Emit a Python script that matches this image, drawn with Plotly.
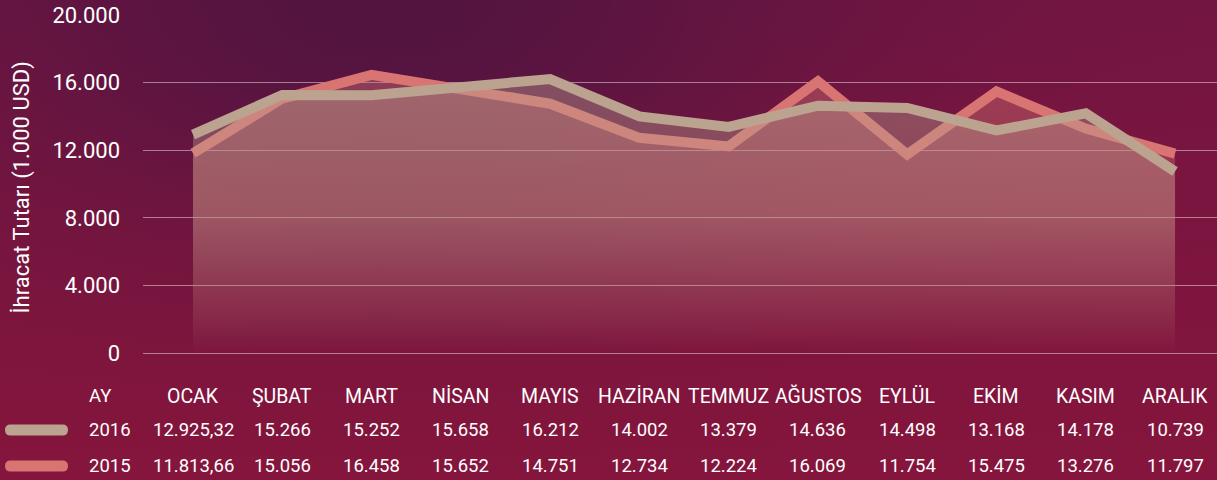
import base64
import struct
import zlib

import numpy as np
import plotly.graph_objects as go

months = ['OCAK', 'ŞUBAT', 'MART', 'NİSAN', 'MAYIS', 'HAZİRAN', 'TEMMUZ',
          'AĞUSTOS', 'EYLÜL', 'EKİM', 'KASIM', 'ARALIK']
exports_2016 = [12925.32, 15266, 15252, 15658, 16212, 14002, 13379, 14636, 14498, 13168, 14178, 10739]
exports_2015 = [11813.66, 15056, 16458, 15652, 14751, 12734, 12224, 16069, 11754, 15475, 13276, 11797]
y_ticks = [0, 4000, 8000, 12000, 16000, 20000]

W, H = 1217, 480
L, R, T, B = 143, 0, 15, 127
PW, PH = W - L - R, H - T - B

C16 = '#bba38f'
C15 = '#d87472'


def fmt_tr(v):
    # turkish number format: 12.925,32 / 15.266
    s = f"{v:,.2f}" if v % 1 else f"{v:,.0f}"
    return s.replace(',', 'X').replace('.', ',').replace('X', '.')


def png_uri(arr):
    h, w, _ = arr.shape
    raw = b''.join(b'\x00' + arr[i].tobytes() for i in range(h))

    def chunk(tag, data):
        return (struct.pack('>I', len(data)) + tag + data
                + struct.pack('>I', zlib.crc32(tag + data) & 0xffffffff))

    png = (b'\x89PNG\r\n\x1a\n'
           + chunk(b'IHDR', struct.pack('>IIBBBBB', w, h, 8, 2, 0, 0, 0))
           + chunk(b'IDAT', zlib.compress(raw, 9))
           + chunk(b'IEND', b''))
    return 'data:image/png;base64,' + base64.b64encode(png).decode()


# background gradient (purple top-left -> crimson)
sc = 4
yy, xx = np.mgrid[0:H:sc, 0:W:sc].astype(float)
top = np.array([116, 22, 66.])
bot = np.array([134, 22, 60.])
dark = np.array([78, 20, 64.])
t = (yy / H)[..., None]
base = top * (1 - t) + bot * t
w = (0.85 * np.exp(-((xx - 380) / 420) ** 2 - (yy / 230) ** 2))[..., None]
bg = np.clip(base * (1 - w) + dark * w, 0, 255).astype(np.uint8)


def rgba(hexc, a):
    h = hexc.lstrip('#')
    r, g, b = (int(h[i:i + 2], 16) for i in (0, 2, 4))
    return f'rgba({r},{g},{b},{a})'


def grad(c):
    return dict(type='vertical', start=0, stop=16500,
                colorscale=[[0, rgba(c, 0)], [0.12, rgba(c, 0.08)],
                            [0.5, rgba(c, 0.32)], [1, rgba(c, 0.42)]])


fig = go.Figure()
fig.add_trace(go.Scatter(x=months, y=exports_2015, name='2015', mode='lines',
                         line=dict(color=C15, width=10),
                         fill='tozeroy', fillgradient=grad(C15)))
fig.add_trace(go.Scatter(x=months, y=exports_2016, name='2016', mode='lines',
                         line=dict(color=C16, width=10),
                         fill='tozeroy', fillgradient=grad(C16)))

font = dict(family='Roboto', color='white')

# table under the chart
rows = [(-43, None), (-77, exports_2016), (-113, exports_2015)]
ann = []
for dy, vals in rows:
    yp = dy / PH
    for i, m in enumerate(months):
        txt = m if vals is None else fmt_tr(vals[i])
        size = 19.5 if vals is None else 18.5
        ann.append(dict(x=m, xref='x', y=yp, yref='paper', text=txt, showarrow=False,
                        xanchor='center', yanchor='middle', font=dict(size=size, **font)))
for dy, label in [(-43, 'AY'), (-77, '2016'), (-113, '2015')]:
    cx = 100 if label == 'AY' else 110
    ann.append(dict(x=(cx - L) / PW, xref='paper', y=dy / PH, yref='paper', text=label,
                    showarrow=False, xanchor='center', yanchor='middle',
                    font=dict(size=18.5, **font)))
ann.append(dict(x=(22 - L) / PW, xref='paper', y=0.49, yref='paper',
                text='İhracat Tutarı (1.000 USD)', textangle=-90, showarrow=False,
                xanchor='center', yanchor='middle', font=dict(size=22, **font)))

# legend swatches (rounded bars)
swatches = []
for dy, c in [(-77, C16), (-113, C15)]:
    p = 'M 10.5,-5.5 L 62.5,-5.5 Q 68,-5.5 68,0 Q 68,5.5 62.5,5.5 L 10.5,5.5 Q 5,5.5 5,0 Q 5,-5.5 10.5,-5.5 Z'
    swatches.append(dict(type='path', xref='paper', yref='paper', xsizemode='pixel', ysizemode='pixel',
                         xanchor=-L / PW, yanchor=dy / PH, path=p, fillcolor=c, line_width=0))

fig.update_layout(
    width=W, height=H,
    margin=dict(l=L, r=R, t=T, b=B),
    paper_bgcolor='#7a1640',
    plot_bgcolor='rgba(0,0,0,0)',
    separators=',.',
    showlegend=False,
    font=font,
    annotations=ann,
    shapes=swatches,
    images=[dict(source=png_uri(bg), xref='paper', yref='paper',
                 x=-L / PW, y=1 + T / PH, sizex=W / PW, sizey=H / PH,
                 xanchor='left', yanchor='top', sizing='stretch', layer='below')],
    xaxis=dict(range=[-0.56, 11.47], showgrid=False, showticklabels=False,
               zeroline=False, showline=False, ticks=''),
    yaxis=dict(range=[0, 20000], tickvals=y_ticks, tickformat=',d',
               showgrid=True, gridcolor='rgba(255,255,255,0.45)', gridwidth=1,
               zeroline=True, zerolinecolor='rgba(255,255,255,0.45)', zerolinewidth=1,
               showline=False, ticks='', ticklabelstandoff=22,
               tickfont=dict(size=22, family='Roboto', color='white')),
)

fig.write_html("out.html", config={'displayModeBar': False},
               post_script="document.body.style.margin='0';document.body.style.overflow='hidden';")
